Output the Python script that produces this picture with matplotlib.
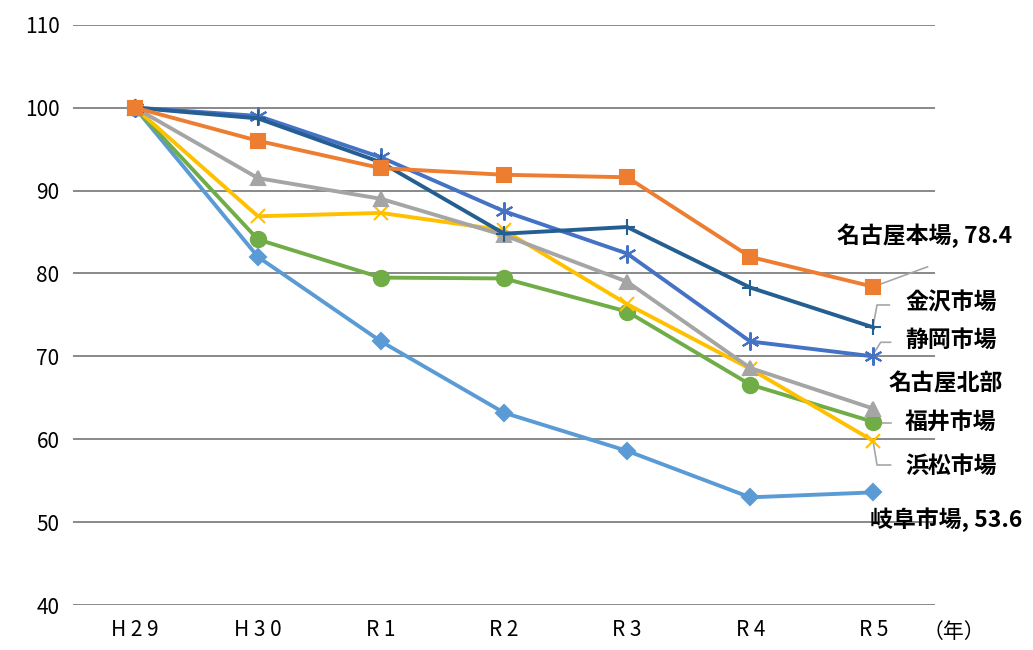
import matplotlib.pyplot as plt

plt.rcParams['font.family'] = ['Noto Sans CJK JP', 'DejaVu Sans']

years = ["H29", "H30", "R1", "R2", "R3", "R4", "R5"]

# index values (H29 = 100)
nagoya_honjo = [100, 96.0, 92.7, 91.9, 91.6, 82.0, 78.4]
kanazawa = [100, 98.7, 93.4, 84.8, 85.6, 78.3, 73.5]
shizuoka = [100, 99.0, 94.0, 87.5, 82.4, 71.8, 70.0]
nagoya_hokubu = [100, 91.5, 89.0, 84.6, 79.0, 68.6, 63.7]
hamamatsu = [100, 86.9, 87.3, 85.2, 76.3, 68.5, 59.8]
fukui = [100, 84.1, 79.5, 79.4, 75.4, 66.6, 62.1]
gifu = [100, 82.0, 71.8, 63.2, 58.6, 53.0, 53.6]

series = [
    (nagoya_honjo, "#ED7D31", "s", 10),
    (kanazawa, "#255E91", "+", 12),
    (shizuoka, "#4472C4", (6, 2, 0), 13),
    (nagoya_hokubu, "#A5A5A5", "^", 10),
    (hamamatsu, "#FFC000", "x", 10),
    (fukui, "#70AD47", "o", 11),
    (gifu, "#5B9BD5", "D", 8),
]

fig = plt.figure(figsize=(10.33, 6.5), dpi=100)
ax = fig.add_axes([0.071, 0.069, 0.834, 0.893])
x = list(range(len(years)))
for vals, color, marker, ms in series[::-1]:
    ax.plot(x, vals, color=color, lw=2.8, marker=marker, ms=ms, mew=1.5,
            zorder=3)

ax.set_xlim(-0.5, 6.5)
ax.set_ylim(40, 110)
ax.set_yticks(range(40, 111, 10))
ax.yaxis.grid(True, color="#808080", lw=1.3)
ax.set_axisbelow(True)
for s in ax.spines.values():
    s.set_visible(False)
ax.tick_params(length=0, labelsize=15, pad=10)
ax.set_xticks(x)
ax.set_xticklabels([" ".join(y) for y in years])
ax.text(6.4, 36.8, "（年）", fontsize=15, ha="left", va="center", clip_on=False)

# data labels with leader lines
labels = [
    ("名古屋本場, 78.4", 6.42, 84.5, [(6.0, 78.4), (6.44, 80.8)]),
    ("金沢市場", 6.63, 76.4, [(6.0, 73.8), (6.03, 76.2), (6.13, 76.2)]),
    ("静岡市場", 6.63, 71.9, [(6.0, 70.3), (6.06, 71.7), (6.14, 71.7)]),
    ("名古屋北部", 6.59, 66.7, []),
    ("福井市場", 6.63, 62.0, [(6.0, 62.0), (6.14, 62.0)]),
    ("浜松市場", 6.63, 56.7, [(6.0, 59.6), (6.03, 56.9), (6.14, 56.9)]),
    ("岐阜市場, 53.6", 6.59, 50.3, []),
]
for txt, tx, ty, pts in labels:
    ax.text(tx, ty, txt, fontsize=16.5, fontweight="bold", ha="center",
            va="center", clip_on=False, zorder=5)
    if pts:
        ax.plot([p[0] for p in pts], [p[1] for p in pts], color="#A6A6A6",
                lw=1.2, clip_on=False, zorder=2)

fig.savefig("out.png", dpi=100)
